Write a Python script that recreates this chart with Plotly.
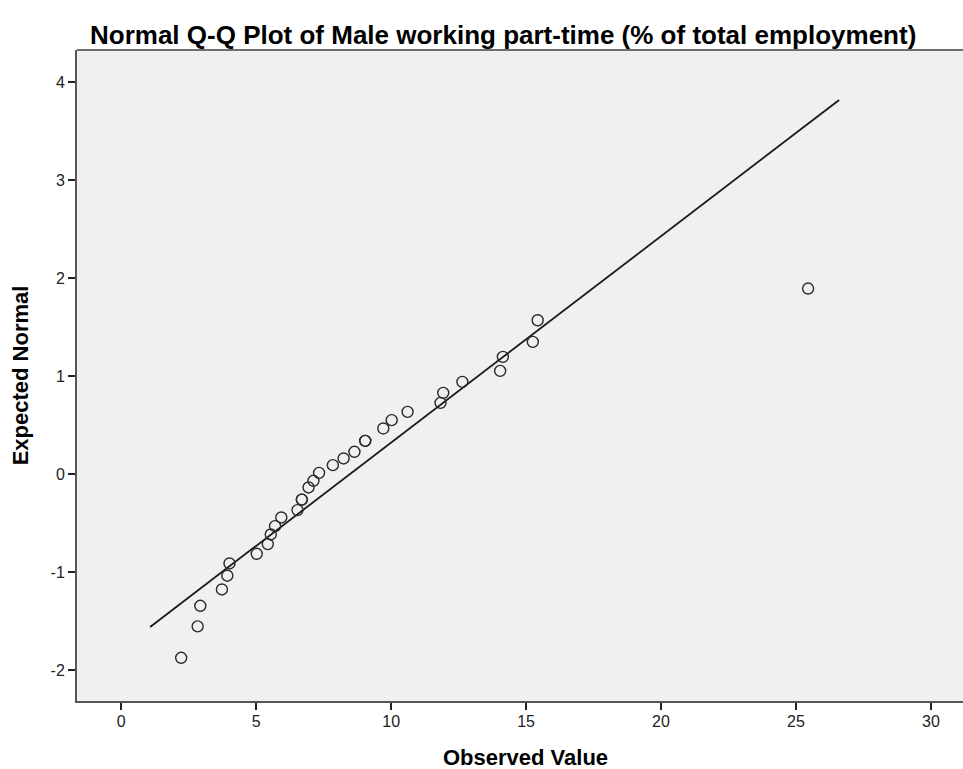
import plotly.graph_objects as go

observed = [2.22, 2.83, 2.93, 3.73, 3.93, 4.01, 5.02, 5.43, 5.54, 5.70, 5.93,
            6.53, 6.69, 6.69, 6.94, 7.12, 7.33, 7.84, 8.24, 8.64, 9.04, 9.04,
            9.71, 10.02, 10.61, 11.83, 11.93, 12.64, 14.04, 14.14, 15.25, 15.43,
            25.45]
expected = [-1.875, -1.554, -1.344, -1.177, -1.037, -0.912, -0.813, -0.714,
            -0.616, -0.531, -0.442, -0.367, -0.260, -0.260, -0.136, -0.068,
            0.013, 0.092, 0.160, 0.228, 0.340, 0.340, 0.466, 0.551, 0.636,
            0.728, 0.830, 0.942, 1.054, 1.197, 1.350, 1.571, 1.895]

# Reference line end points
line_x = [1.07, 26.6]
line_y = [-1.56, 3.82]

x_ticks = [0, 5, 10, 15, 20, 25, 30]
y_ticks = [-2, -1, 0, 1, 2, 3, 4]

title_text = "Normal Q-Q Plot of Male working part-time (% of total employment)"
x_title = "Observed Value"
y_title = "Expected Normal"

FONT = "Liberation Sans, Arial, sans-serif"

fig = go.Figure()
fig.add_trace(go.Scatter(
    x=line_x, y=line_y, mode="lines",
    line=dict(color="#1a1a1a", width=1.8),
    hoverinfo="skip", showlegend=False))
fig.add_trace(go.Scatter(
    x=observed, y=expected, mode="markers",
    marker=dict(symbol="circle-open", size=11, color="#2a2a2a",
                line=dict(width=1.4, color="#2a2a2a")),
    showlegend=False))

fig.add_shape(type="line", xref="paper", yref="paper", x0=0, x1=1, y0=1, y1=1,
              line=dict(color="#6e6e6e", width=2))

fig.add_annotation(text=x_title, xref="paper", yref="paper", x=0.506, y=-56 / 651,
                   xanchor="center", yanchor="middle", showarrow=False,
                   font=dict(family=FONT, size=22, color="#000000", weight="bold"))

fig.update_layout(
    width=963, height=769,
    margin=dict(l=77, r=0, t=50, b=68),
    paper_bgcolor="white", plot_bgcolor="#f0f0f0",
    font=dict(family=FONT, color="#000000"),
    title=dict(text=title_text, x=0.481, xref="paper", xanchor="center",
               y=1 - 35 / 769, yref="container", yanchor="middle",
               font=dict(family=FONT, size=26, color="#000000", weight="bold")),
    xaxis=dict(range=[-1.64, 31.19], tickvals=x_ticks, ticktext=[str(v) for v in x_ticks],
               showgrid=False, zeroline=False, showline=True, linecolor="#555555",
               linewidth=2, ticks="outside", ticklen=7, tickwidth=1.5, tickcolor="#222222",
               tickfont=dict(size=16, color="#222222"), ticklabelstandoff=-2,
               automargin=False),
    yaxis=dict(range=[-2.316, 4.33], tickvals=y_ticks, ticktext=[str(v) for v in y_ticks],
               showgrid=False, zeroline=False, showline=True, linecolor="#555555",
               linewidth=2, ticks="outside", ticklen=7, tickwidth=1.5, tickcolor="#222222",
               tickfont=dict(size=16, color="#222222"), automargin=False,
               title=dict(text=y_title, standoff=16,
                          font=dict(size=22, color="#000000", weight="bold"))),
)

fig.write_html("out.html")
